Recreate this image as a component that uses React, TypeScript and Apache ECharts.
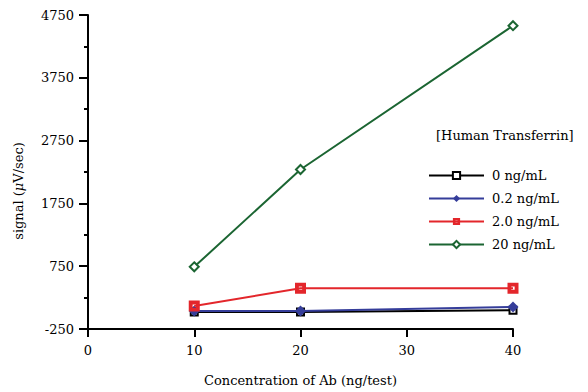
import React, { useEffect, useRef } from "react";
import * as echarts from "echarts";

const xValues = [10, 20, 40];
const seriesNames = ["0 ng/mL", "0.2 ng/mL", "2.0 ng/mL", "20 ng/mL"];
const s0 = [20, 20, 50];
const s02 = [35, 35, 100];
const s20 = [115, 400, 400];
const s200 = [740, 2290, 4580];
const colors = ["#000000", "#353d9a", "#e3262b", "#1b6532"];

const FONT = "DejaVu Serif";
const FS = 13;
const HOLLOW_SQUARE = "path://M0,0H10V10H0Z M3.5,3.5V6.5H6.5V3.5Z";

export default function App() {
  const ref = useRef<HTMLDivElement>(null);
  useEffect(() => {
    if (!ref.current) return;
    const chart = echarts.init(ref.current, null, { renderer: "svg" });
    const mk = (vals: number[]) => xValues.map((x, i) => [x, vals[i]]);
    chart.setOption({
      animation: false,
      backgroundColor: "#ffffff",
      textStyle: { fontFamily: FONT },
      grid: { left: 88, right: 75, top: 15, bottom: 62 },
      graphic: [
        {
          type: "text",
          x: 436,
          y: 135,
          style: {
            text: "[Human Transferrin]",
            fontFamily: FONT,
            fontSize: FS,
            fill: "#000",
            textVerticalAlign: "middle",
          },
        },
        {
          type: "text",
          x: 18,
          y: 191,
          rotation: Math.PI / 2,
          style: {
            text: "signal ({i|μ}V/sec)",
            fontFamily: FONT,
            fontSize: FS,
            fill: "#000",
            align: "center",
            verticalAlign: "middle",
            rich: { i: { fontStyle: "italic", fontFamily: FONT, fontSize: FS } },
          },
        },
      ],
      legend: {
        orient: "vertical",
        left: 423,
        top: 164,
        itemWidth: 55,
        itemHeight: 9,
        itemGap: 10,
        textStyle: { fontFamily: FONT, fontSize: FS, color: "#000", padding: [0, 0, 0, 3] },
        data: seriesNames,
      },
      xAxis: {
        type: "value",
        min: 0,
        max: 40,
        interval: 10,
        name: "Concentration of Ab (ng/test)",
        nameLocation: "middle",
        nameGap: 45,
        nameTextStyle: { fontFamily: FONT, fontSize: FS, color: "#000" },
        axisLine: { show: true, onZero: false, lineStyle: { color: "#000", width: 2 } },
        axisTick: { show: true, length: 8, lineStyle: { color: "#000", width: 2 } },
        axisLabel: { fontFamily: FONT, fontSize: FS, color: "#000", margin: 15 },
        splitLine: { show: false },
      },
      yAxis: {
        type: "value",
        min: -250,
        max: 4750,
        interval: 1000,
        axisLine: { show: true, onZero: false, lineStyle: { color: "#000", width: 2 } },
        axisTick: { show: true, length: 9, lineStyle: { color: "#000", width: 2 } },
        minorTick: { show: true, splitNumber: 2, length: 4, lineStyle: { color: "#000", width: 2 } },
        axisLabel: {
          fontFamily: FONT,
          fontSize: FS,
          color: "#000",
          margin: 14,
          formatter: (v: number) => String(v),
        },
        splitLine: { show: false },
      },
      series: [
        {
          name: seriesNames[0],
          type: "line",
          data: mk(s0),
          symbol: "rect",
          symbolSize: 7,
          lineStyle: { color: colors[0], width: 2 },
          itemStyle: { color: "#fff", borderColor: colors[0], borderWidth: 2 },
          z: 2,
        },
        {
          name: seriesNames[1],
          type: "line",
          data: mk(s02),
          symbol: "diamond",
          symbolSize: 11,
          lineStyle: { color: colors[1], width: 2 },
          itemStyle: { color: colors[1], borderColor: colors[1], borderWidth: 0 },
          z: 3,
        },
        {
          name: seriesNames[2],
          type: "line",
          data: mk(s20),
          symbol: HOLLOW_SQUARE,
          symbolSize: 11,
          lineStyle: { color: colors[2], width: 2 },
          itemStyle: { color: colors[2], borderWidth: 0 },
          z: 4,
        },
        {
          name: seriesNames[3],
          type: "line",
          data: mk(s200),
          symbol: "diamond",
          symbolSize: 9,
          lineStyle: { color: colors[3], width: 2 },
          itemStyle: { color: "#fff", borderColor: colors[3], borderWidth: 2 },
          z: 5,
        },
      ],
    });
    return () => chart.dispose();
  }, []);
  return (
    <div
      ref={ref}
      style={{ position: "fixed", left: 0, top: 0, width: 588, height: 392 }}
    />
  );
}
